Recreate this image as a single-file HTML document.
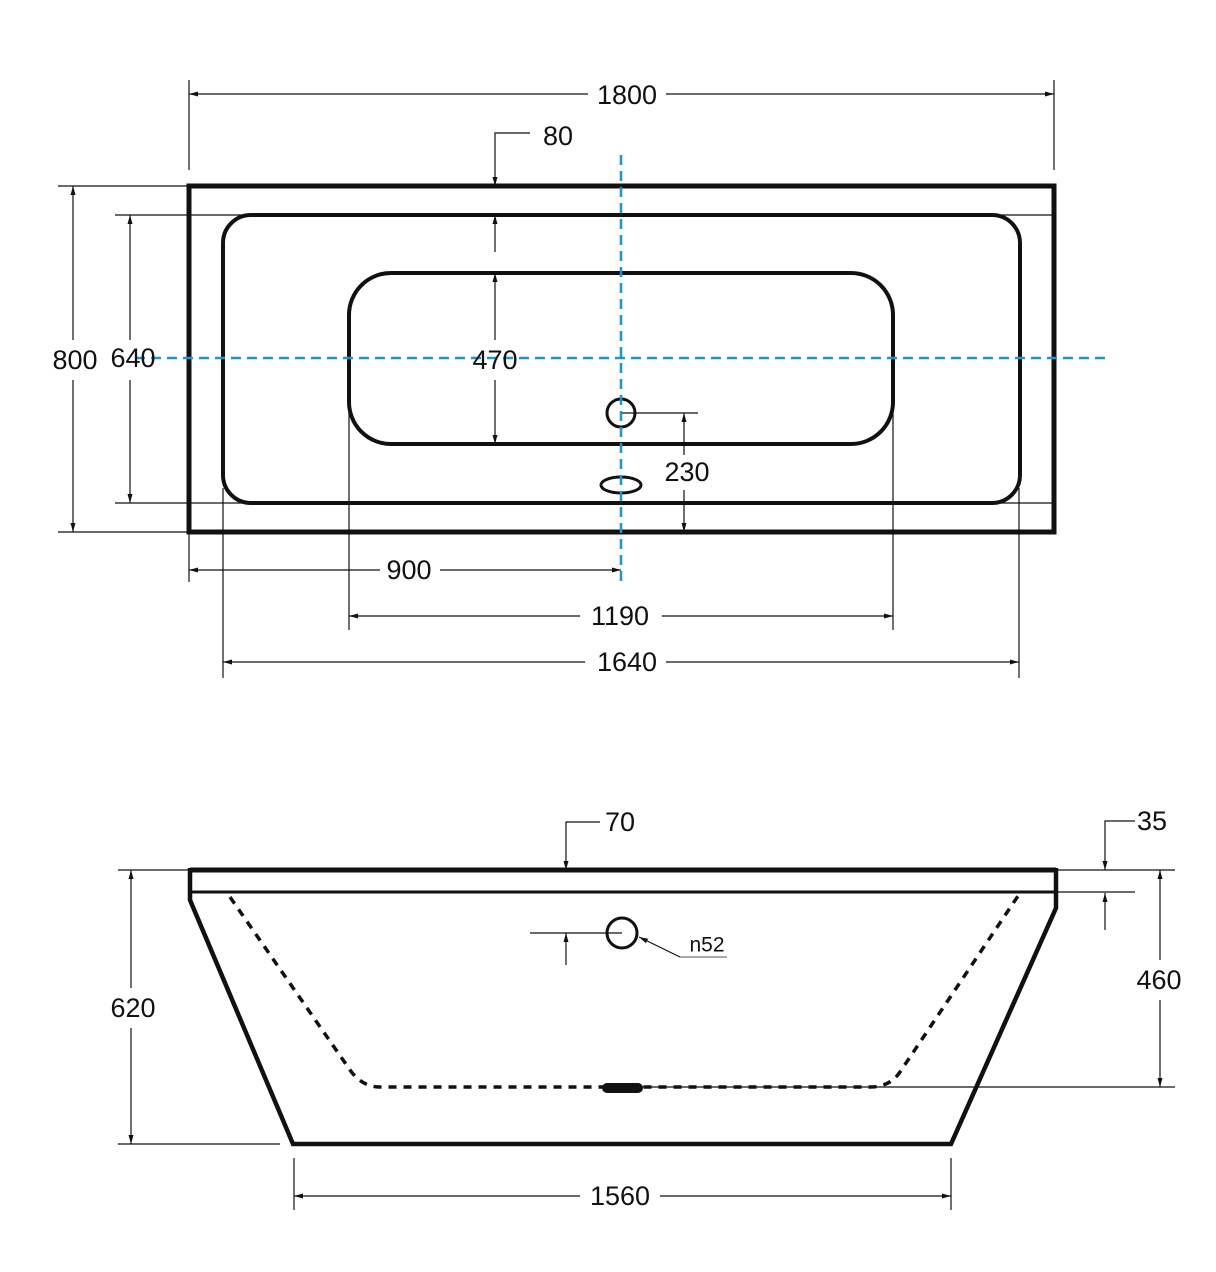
<!DOCTYPE html>
<html><head><style>body{margin:0;background:#fff}svg{display:block}text{font-family:"Liberation Sans",sans-serif;font-size:27px;fill:#111}</style></head><body>
<svg width="1216" height="1272" viewBox="0 0 1216 1272" xmlns="http://www.w3.org/2000/svg">
<defs><marker id="a" markerWidth="10" markerHeight="8" refX="9" refY="4" orient="auto" markerUnits="userSpaceOnUse"><path d="M0,1.5 L9,4 L0,6.5z" fill="#111"/></marker></defs>
<g stroke="#111" fill="none">
<rect x="189" y="186" width="865" height="346" stroke-width="5"/>
<line x1="115" y1="215" x2="1054" y2="215" stroke-width="1.3"/>
<line x1="115" y1="503" x2="1054" y2="503" stroke-width="1.3"/>
<rect x="223" y="215" width="797" height="288" rx="28" stroke-width="4"/>
<rect x="349" y="273" width="544" height="171" rx="42" stroke-width="4"/>
<circle cx="621" cy="413" r="14" stroke-width="3"/>
<ellipse cx="621" cy="485" rx="20" ry="8" stroke-width="3"/>
<g stroke-width="1.2">
<line x1="189" y1="80" x2="189" y2="170"/><line x1="1054" y1="80" x2="1054" y2="170"/>
<line x1="588" y1="94" x2="189" y2="94" marker-end="url(#a)"/>
<line x1="666" y1="94" x2="1054" y2="94" marker-end="url(#a)"/>
<polyline points="530,133 495,133 495,186" marker-end="url(#a)"/>
<line x1="495" y1="252" x2="495" y2="215" marker-end="url(#a)"/>
<line x1="495" y1="340" x2="495" y2="273" marker-end="url(#a)"/>
<line x1="495" y1="380" x2="495" y2="444" marker-end="url(#a)"/>
<line x1="58" y1="186" x2="189" y2="186"/><line x1="58" y1="532" x2="189" y2="532"/>
<line x1="73" y1="340" x2="73" y2="186" marker-end="url(#a)"/>
<line x1="73" y1="380" x2="73" y2="532" marker-end="url(#a)"/>
<line x1="130" y1="340" x2="130" y2="215" marker-end="url(#a)"/>
<line x1="130" y1="380" x2="130" y2="503" marker-end="url(#a)"/>
<line x1="621" y1="413" x2="698" y2="413"/>
<line x1="684" y1="455" x2="684" y2="413" marker-end="url(#a)"/>
<line x1="684" y1="490" x2="684" y2="532" marker-end="url(#a)"/>
<line x1="189" y1="532" x2="189" y2="582"/>
<line x1="380" y1="570" x2="189" y2="570" marker-end="url(#a)"/>
<line x1="440" y1="570" x2="621" y2="570" marker-end="url(#a)"/>
<line x1="349" y1="410" x2="349" y2="630"/><line x1="893" y1="410" x2="893" y2="630"/>
<line x1="580" y1="616" x2="349" y2="616" marker-end="url(#a)"/>
<line x1="662" y1="616" x2="893" y2="616" marker-end="url(#a)"/>
<line x1="223" y1="488" x2="223" y2="678"/><line x1="1019" y1="488" x2="1019" y2="678"/>
<line x1="585" y1="662" x2="223" y2="662" marker-end="url(#a)"/>
<line x1="666" y1="662" x2="1019" y2="662" marker-end="url(#a)"/>
</g>
<g stroke="#1a96d4" stroke-width="2.5" stroke-dasharray="10,6">
<line x1="621" y1="155" x2="621" y2="585"/>
<line x1="135" y1="358" x2="1105" y2="358"/>
</g>
<line x1="190" y1="870" x2="1056" y2="870" stroke-width="5"/>
<line x1="190" y1="892" x2="1056" y2="892" stroke-width="3"/>
<polyline points="190,868 190,900 293,1144 951,1144 1056,908 1056,868" stroke-width="4.5" stroke-linejoin="miter"/>
<path d="M230,897 L350,1070 Q362,1087 380,1087 L870,1087 Q890,1087 900,1072 L1020,893" stroke-width="3.5" stroke-dasharray="8,7"/>
<line x1="607" y1="1088" x2="638" y2="1088" stroke-width="10" stroke-linecap="round"/>
<circle cx="622" cy="933" r="15" stroke-width="3"/>
<g stroke-width="1.2">
<line x1="680" y1="957" x2="639" y2="937" marker-end="url(#a)"/>
<line x1="680" y1="957" x2="727" y2="957" stroke="#777"/>
<polyline points="600,822 566,822 566,870" marker-end="url(#a)"/>
<polyline points="1135,821 1105,821 1105,870" marker-end="url(#a)"/>
<line x1="1105" y1="930" x2="1105" y2="893" marker-end="url(#a)"/>
<line x1="1056" y1="892" x2="1135" y2="892"/>
<line x1="1056" y1="870" x2="1175" y2="870"/>
<line x1="642" y1="1087" x2="1175" y2="1087"/>
<line x1="1160" y1="960" x2="1160" y2="870" marker-end="url(#a)"/>
<line x1="1160" y1="1000" x2="1160" y2="1087" marker-end="url(#a)"/>
<line x1="530" y1="933" x2="622" y2="933"/>
<line x1="566" y1="965" x2="566" y2="933" marker-end="url(#a)"/>
<line x1="118" y1="870" x2="190" y2="870"/><line x1="118" y1="1144" x2="280" y2="1144"/>
<line x1="131" y1="988" x2="131" y2="870" marker-end="url(#a)"/>
<line x1="131" y1="1028" x2="131" y2="1144" marker-end="url(#a)"/>
<line x1="294" y1="1158" x2="294" y2="1210"/><line x1="951" y1="1158" x2="951" y2="1210"/>
<line x1="580" y1="1196" x2="294" y2="1196" marker-end="url(#a)"/>
<line x1="660" y1="1196" x2="951" y2="1196" marker-end="url(#a)"/>
</g>
</g>
<g text-anchor="middle" dominant-baseline="central">
<text x="627" y="95">1800</text>
<text x="558" y="136">80</text>
<text x="495" y="360">470</text>
<text x="75" y="360">800</text>
<text x="133" y="358">640</text>
<text x="687" y="472">230</text>
<text x="409" y="570">900</text>
<text x="620" y="616">1190</text>
<text x="627" y="662">1640</text>
<text x="620" y="822">70</text>
<text x="1152" y="821">35</text>
<text x="1159" y="980">460</text>
<text x="133" y="1008">620</text>
<text x="620" y="1196">1560</text>
<text x="707" y="945" style="font-size:21px">n52</text>
</g>
</svg>
</body></html>
